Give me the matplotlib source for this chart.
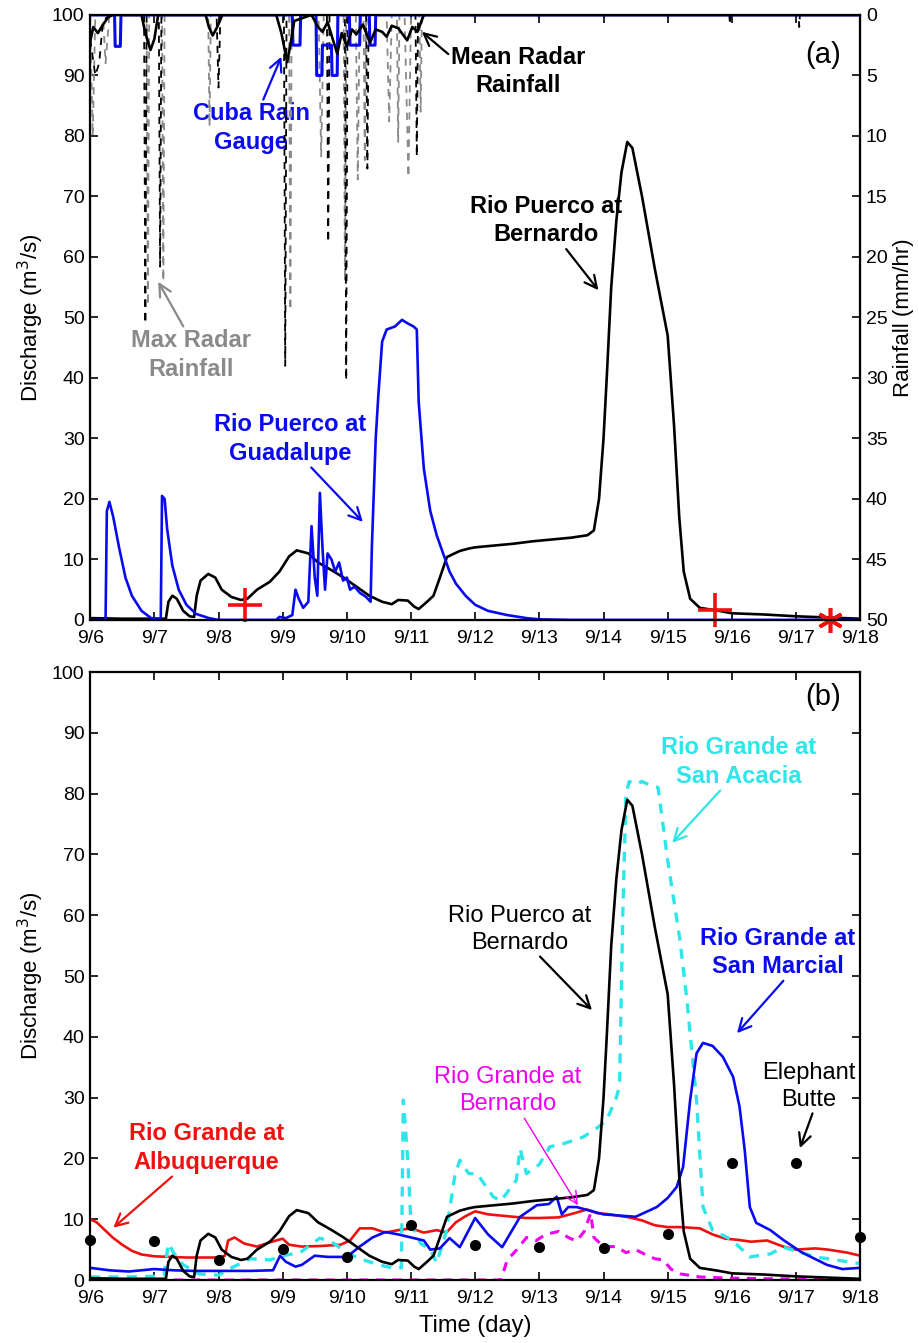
import numpy as np
import matplotlib
matplotlib.use('Agg')
import matplotlib.pyplot as plt

plt.rcParams['font.family'] = ['Liberation Sans', 'DejaVu Sans']

# ---- panel (a) data: discharge (m3/s) ----
# Rio Puerco at Bernardo (also used in panel b)
pb_t = [6.0, 6.5, 7.0, 7.18, 7.22, 7.28, 7.35, 7.45, 7.55, 7.62, 7.66, 7.72, 7.84, 7.95, 8.05,
        8.2, 8.35, 8.45, 8.6, 8.8, 8.95, 9.1, 9.22, 9.4, 9.55, 9.75, 9.95, 10.15, 10.35, 10.55,
        10.7, 10.8, 10.95, 11.05, 11.12, 11.25, 11.35, 11.45, 11.56, 11.76, 11.9, 12.0, 12.3, 12.6,
        12.9, 13.2, 13.5, 13.75, 13.85, 13.93, 14.0, 14.05, 14.12, 14.2, 14.28, 14.37, 14.45, 14.6,
        14.8, 15.0, 15.1, 15.18, 15.25, 15.35, 15.5, 15.8, 16.0, 16.5, 17.0, 17.5, 18.0]
pb_q = [0.3, 0.2, 0.2, 0.2, 3.0, 4.0, 3.5, 1.5, 0.6, 0.5, 4.0, 6.5, 7.6, 7.0, 5.0,
        3.8, 3.3, 3.5, 5.0, 6.3, 8.0, 10.5, 11.5, 11.0, 9.5, 8.3, 7.0, 5.5, 4.0, 3.0,
        2.6, 3.3, 3.2, 2.2, 1.8, 3.0, 4.0, 7.0, 10.4, 11.4, 11.8, 12.0, 12.3, 12.6,
        13.0, 13.3, 13.6, 14.0, 14.8, 20.0, 30.0, 40.0, 55.0, 66.0, 74.0, 79.0, 78.0, 70.0,
        58.0, 47.0, 32.0, 17.0, 8.0, 3.5, 2.0, 1.5, 1.1, 0.9, 0.6, 0.4, 0.2]

# Rio Puerco at Guadalupe
pg_t = [6.0, 6.24, 6.26, 6.3, 6.36, 6.45, 6.55, 6.65, 6.8, 6.95, 7.1, 7.12, 7.16, 7.2, 7.28,
        7.38, 7.5, 7.65, 7.85, 8.0, 8.9, 8.95, 9.05, 9.15, 9.2, 9.25, 9.32, 9.4, 9.45, 9.5,
        9.54, 9.58, 9.62, 9.66, 9.7, 9.76, 9.82, 9.88, 9.94, 10.0, 10.05, 10.12, 10.2, 10.3,
        10.37, 10.39, 10.45, 10.49, 10.55, 10.62, 10.75, 10.86, 10.95, 11.04, 11.09, 11.12,
        11.2, 11.3, 11.4, 11.5, 11.6, 11.7, 11.85, 12.0, 12.2, 12.5, 12.8, 13.0, 13.5, 18.0]
pg_q = [0.0, 0.0, 18.0, 19.5, 17.0, 12.0, 7.0, 4.0, 1.5, 0.3, 0.2, 20.5, 20.0, 15.0, 9.0,
        5.0, 2.5, 1.0, 0.3, 0.0, 0.0, 0.5, 0.3, 0.8, 5.0, 3.5, 2.0, 3.0, 15.5, 7.0,
        4.0, 21.0, 12.0, 5.0, 11.0, 10.0, 8.0, 9.5, 6.5, 7.0, 5.0, 5.5, 4.5, 3.8,
        3.0, 12.0, 30.0, 37.0, 46.0, 48.0, 48.5, 49.6, 49.0, 48.5, 48.0, 36.0,
        25.0, 18.0, 14.0, 11.0, 8.0, 6.0, 4.0, 2.5, 1.5, 0.8, 0.3, 0.1, 0.0, 0.0]

# ---- panel (a) data: rainfall (mm/hr) ----
mean_t = [6.0, 6.05, 6.12, 6.2, 6.28, 6.35, 6.8, 6.86, 6.94, 7.0, 7.06, 7.8, 7.85, 7.91, 7.98,
          8.06, 8.9, 8.98, 9.07, 9.12, 9.18, 9.45, 9.55, 9.62, 9.7, 9.78, 9.85, 9.92, 10.0, 10.08,
          10.15, 10.25, 10.36, 10.45, 10.55, 10.62, 10.7, 10.8, 10.94, 11.02, 11.1, 11.2, 18.0]
mean_r = [2.2, 1.0, 1.5, 0.8, 0.2, 0.0, 0.0, 1.5, 2.9, 2.0, 0.0, 0.0, 1.0, 1.7, 1.0,
          0.0, 0.0, 1.5, 3.9, 2.5, 0.5, 0.0, 1.0, 1.4, 0.6, 2.0, 3.2, 1.5, 2.6, 1.2,
          1.6, 0.8, 2.3, 1.2, 1.4, 1.8, 0.9, 1.1, 2.1, 1.0, 1.4, 0.0, 0.0]

gauge_t = [6.0, 6.38, 6.39, 6.47, 6.48, 9.15, 9.16, 9.27, 9.28, 9.52, 9.53, 9.61, 9.62, 9.76,
           9.77, 9.85, 9.86, 10.04, 10.05, 10.2, 10.21, 10.35, 10.36, 10.44, 10.45, 18.0]
gauge_r = [0.0, 0.0, 2.6, 2.6, 0.0, 0.0, 2.5, 2.5, 0.0, 0.0, 5.0, 5.0, 2.5, 2.5,
           5.0, 5.0, 0.0, 0.0, 2.5, 2.5, 0.0, 0.0, 2.5, 2.5, 0.0, 0.0]

maxb_t = [6.0, 6.08, 6.14, 6.2, 6.3, 6.84, 6.86, 6.88, 7.07, 7.09, 7.11, 7.97, 8.0, 8.03,
          9.02, 9.04, 9.06, 9.69, 9.71, 9.73, 9.97, 9.99, 10.01, 10.3, 10.32, 10.34,
          11.07, 11.09, 11.11, 15.96, 15.97, 15.98, 17.04, 17.05, 17.06, 18.0]
maxb_r = [2.0, 5.0, 4.0, 0.5, 0.0, 0.0, 25.5, 0.0, 0.0, 20.8, 0.0, 0.0, 6.0, 0.0,
          0.0, 29.0, 0.0, 0.0, 18.8, 0.0, 0.0, 30.2, 0.0, 0.0, 12.7, 0.0,
          0.0, 11.7, 0.0, 0.0, 0.8, 0.0, 0.0, 1.0, 0.0, 0.0]

maxg_t = [6.0, 6.04, 6.08, 6.2, 6.24, 6.3, 6.88, 6.9, 6.92, 7.12, 7.14, 7.16, 7.84, 7.86, 7.88,
          9.1, 9.12, 9.14, 9.56, 9.6, 9.64, 9.95, 9.97, 9.99, 10.14, 10.17, 10.2, 10.26, 10.28,
          10.3, 10.62, 10.66, 10.7, 10.78, 10.8, 10.82, 10.9, 10.96, 11.0, 11.13, 11.15, 11.17, 18.0]
maxg_r = [0.0, 10.0, 0.0, 0.0, 4.0, 0.0, 0.0, 24.0, 0.0, 0.0, 22.0, 0.0, 0.0, 9.2, 0.0,
          0.0, 24.4, 0.0, 0.0, 11.7, 0.0, 0.0, 22.0, 0.0, 0.0, 13.6, 0.0, 0.0, 12.0,
          0.0, 0.0, 8.8, 0.0, 0.0, 10.5, 0.0, 0.0, 13.4, 0.0, 0.0, 8.0, 0.0, 0.0]

plus_t = [8.41, 15.73]
plus_q = [2.5, 1.65]
star_t = [17.53]
star_q = [0.0]

# ---- panel (b) data ----
abq_t = [6.0, 6.1, 6.2, 6.35, 6.5, 6.65, 6.8, 7.0, 7.5, 8.0, 8.1, 8.15, 8.25, 8.4, 8.6, 8.8, 9.0,
         9.1, 9.3, 9.6, 9.9, 10.05, 10.2, 10.4, 10.6, 10.8, 11.0, 11.2, 11.4, 11.55, 11.7, 11.85,
         12.0, 12.2, 12.5, 12.8, 13.0, 13.3, 13.55, 13.74, 13.9, 14.1, 14.4, 14.6, 14.8, 15.0,
         15.2, 15.5, 15.7, 15.9, 16.1, 16.3, 16.55, 16.8, 17.0, 17.3, 17.5, 17.8, 18.0]
abq_q = [10.0, 9.5, 8.5, 7.0, 5.8, 4.8, 4.2, 3.9, 3.7, 3.7, 4.0, 6.5, 7.0, 6.0, 5.5, 6.2, 6.8,
         5.8, 5.5, 5.6, 5.8, 6.5, 8.5, 8.5, 7.8, 8.2, 8.5, 7.8, 8.2, 7.8, 9.5, 10.5,
         11.3, 10.8, 10.5, 10.2, 10.2, 10.3, 11.0, 11.6, 11.0, 10.8, 10.3, 9.8, 9.0, 8.7,
         8.7, 8.5, 7.5, 6.8, 6.6, 6.3, 6.5, 5.5, 5.0, 5.2, 5.0, 4.5, 4.0]

smar_t = [6.0, 6.3, 6.6, 7.0, 7.3, 7.6, 8.0, 8.5, 8.85, 8.96, 9.05, 9.2, 9.3, 9.5, 9.7, 10.0,
          10.2, 10.4, 10.6, 10.8, 11.0, 11.2, 11.3, 11.45, 11.6, 11.76, 12.0, 12.2, 12.42, 12.7,
          12.96, 13.15, 13.27, 13.35, 13.45, 13.58, 14.0, 14.5, 14.83, 15.0, 15.14, 15.24, 15.35,
          15.45, 15.55, 15.7, 15.86, 16.02, 16.12, 16.2, 16.28, 16.38, 16.6, 16.8, 17.08, 17.48,
          17.72, 18.0]
smar_q = [2.0, 1.6, 1.4, 1.8, 1.6, 1.5, 1.5, 1.5, 1.6, 4.0, 3.0, 2.2, 2.5, 4.0, 3.8, 3.8,
          5.5, 7.0, 7.9, 7.5, 7.0, 6.5, 5.0, 5.2, 6.9, 5.4, 10.2, 7.5, 5.4, 10.4,
          12.3, 12.5, 13.7, 10.8, 12.0, 12.0, 10.8, 10.4, 12.0, 13.5, 15.3, 18.6, 29.6,
          37.3, 39.0, 38.5, 36.7, 33.4, 28.5, 21.4, 12.0, 9.4, 8.2, 6.6, 4.6, 2.5,
          1.8, 2.0]

sac_t = [6.0, 6.5, 7.0, 7.15, 7.22, 7.3, 7.45, 7.7, 8.0, 8.2, 8.5, 8.8, 9.0, 9.27, 9.58, 9.8,
         10.0, 10.2, 10.5, 10.7, 10.85, 10.88, 10.95, 11.0, 11.15, 11.3, 11.4, 11.55, 11.68,
         11.76, 11.9, 12.03, 12.28, 12.4, 12.64, 12.7, 12.8, 13.0, 13.16, 13.4, 13.68, 13.9,
         14.05, 14.2, 14.25, 14.3, 14.35, 14.4, 14.5, 14.6, 14.7, 14.85, 15.0, 15.19, 15.3,
         15.45, 15.55, 15.7, 16.0, 16.28, 16.6, 16.8, 17.3, 18.0]
sac_q = [0.5, 0.5, 0.6, 0.8, 6.0, 4.5, 2.5, 1.0, 0.8, 2.0, 3.5, 3.3, 4.0, 4.5, 6.9, 6.0,
         4.5, 3.5, 2.5, 2.0, 2.0, 29.6, 19.7, 9.4, 6.0, 5.0, 2.8, 8.0, 17.0,
         19.7, 17.5, 17.5, 13.7, 13.0, 16.4, 21.6, 17.5, 19.0, 21.9, 22.5, 23.5, 25.0,
         26.3, 30.0, 32.0, 60.0, 80.0, 82.0, 81.5, 82.0, 81.5, 81.0, 69.0, 56.0, 46.0,
         29.6, 12.0, 8.2, 6.6, 3.8, 4.3, 5.4, 3.8, 2.7]

bern_t = [6.0, 12.4, 12.5, 12.65, 12.8, 12.95, 13.1, 13.3, 13.45, 13.58, 13.7, 13.8, 13.85,
          14.0, 14.2, 14.35, 14.5, 14.65, 14.8, 14.93, 15.05, 15.2, 15.5, 16.0, 18.0]
bern_q = [0.0, 0.0, 3.3, 5.0, 7.0, 6.5, 7.5, 8.0, 7.0, 6.4, 8.0, 11.0, 7.0,
          5.5, 5.5, 4.5, 5.0, 4.2, 3.5, 3.3, 1.8, 1.0, 0.5, 0.3, 0.0]

eb_t = [6, 7, 8, 9, 10, 11, 12, 13, 14, 15, 16, 17, 18]
eb_q = [6.5, 6.4, 3.3, 5.1, 3.8, 9.0, 5.7, 5.4, 5.2, 7.6, 19.2, 19.2, 7.0]

days = list(range(6, 19))
day_labels = ['9/%d' % d for d in days]

BLUE = '#0a0af0'
CYAN = '#2ee6ea'
MAG = '#f000f0'
RED = '#f01010'
GRAY = '#8a8a8a'


def style_axis(ax):
    ax.set_xlim(6, 18)
    ax.set_ylim(0, 100)
    ax.set_xticks(days)
    ax.set_xticklabels(day_labels)
    ax.set_yticks(range(0, 101, 10))
    ax.tick_params(direction='in', length=6, width=1.2, labelsize=14, pad=4)
    ax.tick_params(axis='x', pad=7)
    for s in ax.spines.values():
        s.set_linewidth(1.6)
    ax.set_ylabel('Discharge (m$^3$/s)', fontsize=16, labelpad=4)


fig = plt.figure(figsize=(9.2, 13.43), dpi=100)
ax1 = fig.add_axes([0.098, 0.5384, 0.837, 0.4505])
ax2 = fig.add_axes([0.098, 0.0469, 0.837, 0.4527])

# ----- panel (a) -----
style_axis(ax1)
ax1.tick_params(top=True, right=False)
ax1.plot(pb_t, pb_q, color='black', lw=1.9)
ax1.plot(pg_t, pg_q, color=BLUE, lw=1.9)
ax1.plot(plus_t, plus_q, '+', color=RED, ms=24, mew=2.6, clip_on=False)
ax1.plot(star_t, star_q, marker=(6, 2, 0), ls='none', color=RED, ms=18, mew=2.6, clip_on=False)

axr = ax1.twinx()
axr.set_ylim(50, 0)
axr.set_yticks(range(0, 51, 5))
axr.tick_params(direction='in', length=6, width=1.2, labelsize=14, pad=4)
axr.set_ylabel('Rainfall (mm/hr)', fontsize=16, labelpad=4)
axr.plot(maxg_t, maxg_r, color=GRAY, lw=1.3, dashes=(4, 3.5))
axr.plot(maxb_t, maxb_r, color='black', lw=1.3, dashes=(4, 3.5))
axr.plot(gauge_t, gauge_r, color=BLUE, lw=2.2)
axr.plot(mean_t, mean_r, color='black', lw=1.9)

txt = dict(fontsize=17, fontweight='bold', ha='center', va='center', linespacing=1.3)
arr = dict(arrowstyle='->', lw=1.6, mutation_scale=22, shrinkA=0, shrinkB=0)
ax1.annotate('Cuba Rain\nGauge', xy=(8.98, 93.1), xytext=(8.51, 81.3), color=BLUE,
             arrowprops=dict(arr, color=BLUE), **txt)
ax1.annotate('Mean Radar\nRainfall', xy=(11.17, 97.2), xytext=(12.67, 90.6), color='black',
             arrowprops=dict(arr, color='black', relpos=(0.0, 0.8)), **txt)
ax1.annotate('Max Radar\nRainfall', xy=(7.06, 55.9), xytext=(7.57, 43.8), color=GRAY,
             arrowprops=dict(arr, color=GRAY, relpos=(0.45, 1.0)), **txt)
ax1.annotate('Rio Puerco at\nGuadalupe', xy=(10.25, 16.2), xytext=(9.12, 29.9), color=BLUE,
             arrowprops=dict(arr, color=BLUE, relpos=(0.62, 0.0)), **txt)
ax1.annotate('Rio Puerco at\nBernardo', xy=(13.92, 54.5), xytext=(13.1, 66.0), color='black',
             arrowprops=dict(arr, color='black', relpos=(0.62, 0.0)), **txt)
ax1.text(17.42, 93.4, '(a)', fontsize=21, ha='center', va='center')

# ----- panel (b) -----
style_axis(ax2)
ax2.tick_params(top=True, right=True)
ax2.plot(abq_t, abq_q, color=RED, lw=1.9)
ax2.plot(sac_t, sac_q, color=CYAN, lw=2.4, dashes=(3, 2.5))
ax2.plot(bern_t, bern_q, color=MAG, lw=2.2, dashes=(3, 2.5))
ax2.plot(smar_t, smar_q, color=BLUE, lw=1.9)
ax2.plot(pb_t, pb_q, color='black', lw=1.9)
ax2.plot(eb_t, eb_q, 'o', color='black', ms=7, clip_on=False, zorder=5)
ax2.set_xlabel('Time (day)', fontsize=17, labelpad=6)

ax2.annotate('Rio Grande at\nSan Acacia', xy=(15.07, 71.9), xytext=(16.1, 85.2), color=CYAN,
             arrowprops=dict(arr, color=CYAN, relpos=(0.4, 0.0)), **txt)
ax2.annotate('Rio Grande at\nSan Marcial', xy=(16.08, 40.6), xytext=(16.72, 53.9), color=BLUE,
             arrowprops=dict(arr, color=BLUE, relpos=(0.55, 0.0)), **txt)
ax2.annotate('Elephant\nButte', xy=(17.06, 21.7), xytext=(17.2, 31.9), color='black',
             arrowprops=dict(arr, color='black', relpos=(0.55, 0.0)),
             fontsize=17, ha='center', va='center', linespacing=1.3)
ax2.annotate('Rio Grande at\nBernardo', xy=(13.6, 12.3), xytext=(12.51, 31.1), color=MAG,
             arrowprops=dict(arr, color=MAG, lw=1.0, relpos=(0.6, 0.0)),
             fontsize=17, ha='center', va='center', linespacing=1.3)
ax2.annotate('Rio Grande at\nAlbuquerque', xy=(6.36, 8.6), xytext=(7.81, 21.7), color=RED,
             arrowprops=dict(arr, color=RED, relpos=(0.3, 0.0)), **txt)
ax2.annotate('Rio Puerco at\nBernardo', xy=(13.82, 44.4), xytext=(12.7, 57.7), color='black',
             arrowprops=dict(arr, color='black', relpos=(0.62, 0.0)),
             fontsize=17, ha='center', va='center', linespacing=1.3)
ax2.text(17.42, 95.9, '(b)', fontsize=21, ha='center', va='center')

fig.savefig('out.png', dpi=100)
